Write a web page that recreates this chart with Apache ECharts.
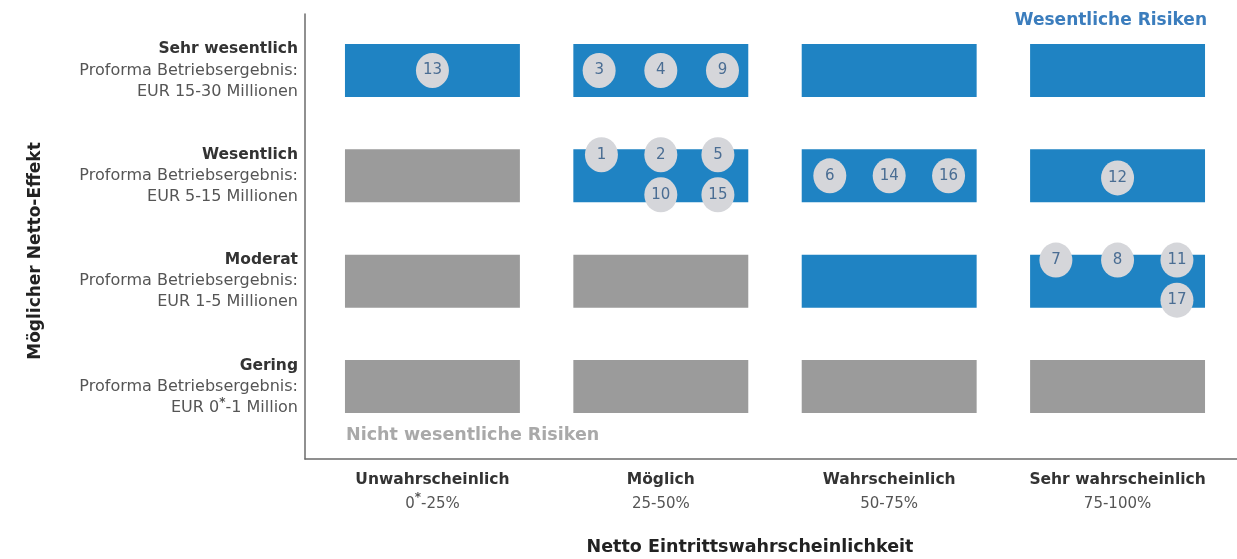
<!DOCTYPE html>
<html>
<head>
<meta charset="utf-8">
<title>Risikomatrix</title>
<script src="https://cdn.jsdelivr.net/npm/echarts@6/dist/echarts.min.js"></script>
<style>
    html, body { margin: 0; padding: 0; background: #fff; }
    #chart { width: 1237px; height: 559px; }
</style>
</head>
<body>
<div id="chart"></div>
<script>
// 横轴：发生概率
const probNames = ['Unwahrscheinlich', 'Möglich', 'Wahrscheinlich', 'Sehr wahrscheinlich'];
const probRanges = ['0*-25%', '25-50%', '50-75%', '75-100%'];

// 纵轴：影响程度（自下而上）
const effectNames = ['Gering', 'Moderat', 'Wesentlich', 'Sehr wesentlich'];
const effectRanges = ['EUR 0*-1 Million', 'EUR 1-5 Millionen', 'EUR 5-15 Millionen', 'EUR 15-30 Millionen'];

// 1 = wesentlich (blau), 0 = nicht wesentlich (grau)，行自下而上
const cellFlags = [
    [0, 0, 0, 0],
    [0, 0, 1, 1],
    [0, 1, 1, 1],
    [1, 1, 1, 1]
];

// 风险编号及其位置
const riskIds = [13, 3, 4, 9, 1, 2, 5, 10, 15, 6, 14, 16, 12, 7, 8, 11, 17];
const riskX = [0.0, 0.73, 1.0, 1.27, 0.74, 1.0, 1.25, 1.0, 1.25, 1.74, 2.0, 2.26, 3.0, 2.73, 3.0, 3.26, 3.26];
const riskY = [3.0, 3.0, 3.0, 3.0, 2.2, 2.2, 2.2, 1.82, 1.82, 2.0, 2.0, 2.0, 1.98, 1.2, 1.2, 1.2, 0.82];

const FONT = 'DejaVu Sans';
const BLUE = '#1f83c3';
const GRAY = '#9b9b9b';
const CELL_W = 0.766;
const CELL_H = 0.503;

let riskChart;

// 把 "*" 变成上标
function withStar(text) {
    return '{n|' + text.split('*').join('}{s|*}{n|') + '}';
}

function initChart() {
    riskChart = echarts.init(document.getElementById('chart'));

    const cellData = [];
    cellFlags.forEach((row, r) => {
        row.forEach((flag, c) => cellData.push([c, r, flag]));
    });
    const riskData = riskIds.map((id, i) => [riskX[i], riskY[i], id]);

    const option = {
        animation: false,
        grid: { left: 305, right: 0, top: 14, bottom: 100 },
        xAxis: {
            type: 'value',
            min: -0.558,
            max: 3.523,
            splitLine: { show: false },
            axisTick: { show: false },
            axisLine: { show: true, onZero: false, lineStyle: { color: '#6b6b6b', width: 1.5 } },
            axisLabel: {
                customValues: [0, 1, 2, 3],
                margin: 9,
                lineHeight: 24,
                formatter: v => '{b|' + probNames[v] + '}\n' + withStar(probRanges[v]),
                rich: {
                    b: { fontFamily: FONT, fontWeight: 'bold', fontSize: 15.5, color: '#333', lineHeight: 24 },
                    n: { fontFamily: FONT, fontSize: 15, color: '#555', lineHeight: 24 },
                    s: { fontFamily: FONT, fontWeight: 'bold', fontSize: 12, color: '#555', verticalAlign: 'top', lineHeight: 24 }
                }
            }
        },
        yAxis: {
            type: 'value',
            min: -0.688,
            max: 3.536,
            splitLine: { show: false },
            axisTick: { show: false },
            axisLine: { show: true, onZero: false, lineStyle: { color: '#6b6b6b', width: 1.5 } },
            axisLabel: {
                customValues: [0, 1, 2, 3],
                margin: 7,
                align: 'right',
                formatter: v => '{b|' + effectNames[v] + '}\n{n|Proforma Betriebsergebnis:}\n' + withStar(effectRanges[v]),
                rich: {
                    b: { fontFamily: FONT, fontWeight: 'bold', fontSize: 15.5, color: '#333', lineHeight: 21, align: 'right' },
                    n: { fontFamily: FONT, fontSize: 16, color: '#555', lineHeight: 21, align: 'right' },
                    s: { fontFamily: FONT, fontWeight: 'bold', fontSize: 12, color: '#555', verticalAlign: 'top', lineHeight: 21 }
                }
            }
        },
        graphic: [
            {
                type: 'text', x: 1207, y: 21,
                style: { text: 'Wesentliche Risiken', fontFamily: FONT, fontSize: 17, fontWeight: 'bold', fill: '#3b7dbd', textAlign: 'right', textVerticalAlign: 'middle' }
            },
            {
                type: 'text', x: 346, y: 435,
                style: { text: 'Nicht wesentliche Risiken', fontFamily: FONT, fontSize: 17.5, fontWeight: 'bold', fill: '#a9a9a9', textAlign: 'left', textVerticalAlign: 'middle' }
            },
            {
                type: 'text', x: 750, y: 547,
                style: { text: 'Netto Eintrittswahrscheinlichkeit', fontFamily: FONT, fontSize: 17.5, fontWeight: 'bold', fill: '#222', textAlign: 'center', textVerticalAlign: 'middle' }
            },
            {
                type: 'text', x: 36, y: 251, rotation: Math.PI / 2,
                style: { text: 'Möglicher Netto-Effekt', fontFamily: FONT, fontSize: 17, fontWeight: 'bold', fill: '#222', textAlign: 'center', textVerticalAlign: 'middle' }
            }
        ],
        series: [
            {
                type: 'custom',
                data: cellData,
                encode: { x: 0, y: 1 },
                renderItem: (params, api) => {
                    const c = api.coord([api.value(0), api.value(1)]);
                    const s = api.size([CELL_W, CELL_H]);
                    return {
                        type: 'rect',
                        shape: { x: c[0] - s[0] / 2, y: c[1] - s[1] / 2, width: s[0], height: s[1] },
                        style: { fill: api.value(2) ? BLUE : GRAY }
                    };
                }
            },
            {
                type: 'scatter',
                data: riskData,
                symbol: 'circle',
                symbolSize: [33, 35],
                itemStyle: { color: '#d5d6da', opacity: 1 },
                label: {
                    show: true,
                    position: 'inside',
                    formatter: p => p.value[2],
                    fontFamily: FONT,
                    fontSize: 15,
                    color: '#4a6d93'
                },
                z: 5
            }
        ]
    };

    riskChart.setOption(option);
}

document.addEventListener('DOMContentLoaded', initChart);
</script>
</body>
</html>
